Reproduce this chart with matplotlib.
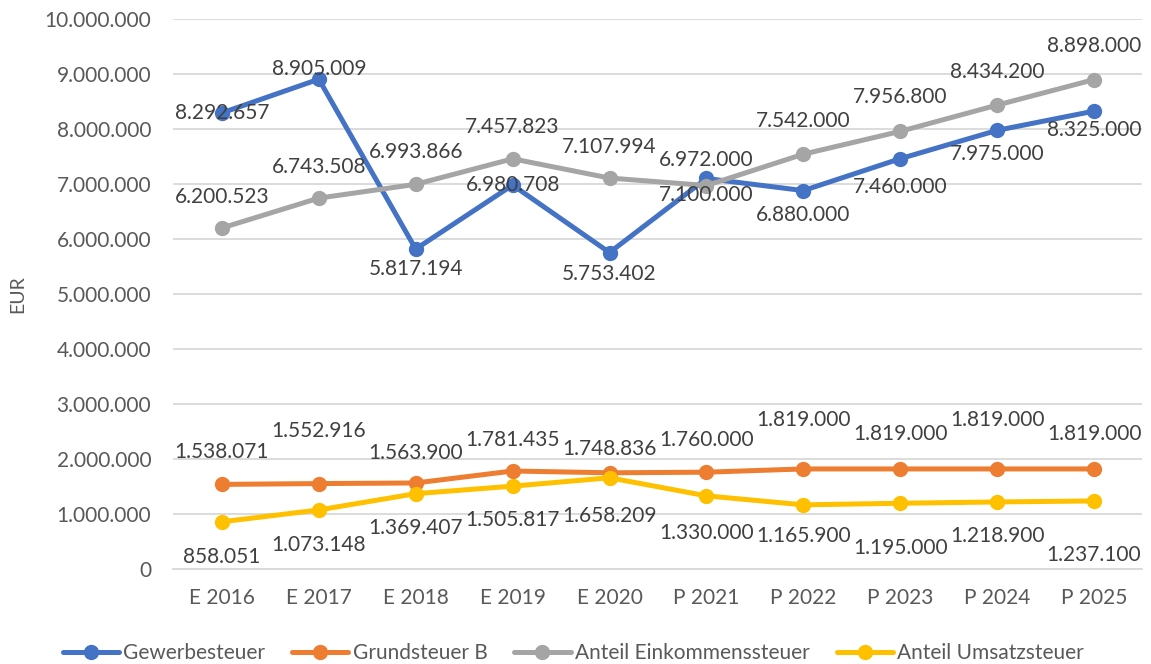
import matplotlib
matplotlib.use("Agg")
import matplotlib.pyplot as plt
from matplotlib.ticker import FuncFormatter

plt.rcParams['font.family'] = ['Lato', 'DejaVu Sans']

jahre = ["E 2016", "E 2017", "E 2018", "E 2019", "E 2020",
         "P 2021", "P 2022", "P 2023", "P 2024", "P 2025"]
gewerbesteuer = [8292657, 8905009, 5817194, 6980708, 5753402,
                 7100000, 6880000, 7460000, 7975000, 8325000]
grundsteuer_b = [1538071, 1552916, 1563900, 1781435, 1748836,
                 1760000, 1819000, 1819000, 1819000, 1819000]
einkommenssteuer = [6200523, 6743508, 6993866, 7457823, 7107994,
                    6972000, 7542000, 7956800, 8434200, 8898000]
umsatzsteuer = [858051, 1073148, 1369407, 1505817, 1658209,
                1330000, 1165900, 1195000, 1218900, 1237100]

namen = ["Gewerbesteuer", "Grundsteuer B", "Anteil Einkommenssteuer", "Anteil Umsatzsteuer"]
farben = ["#4472C4", "#ED7D31", "#A5A5A5", "#FFC000"]

# vertical label offsets in pixels (positive = up), as placed in the original
offsets = [
    [0, 10, -20, 0, -21, -17, -24, -28, -24, -19],
    [32, 53, 30, 31, 24, 32, 49, 35, 49, 35],
    [31, 31, 32, 32, 31, 26, 33, 34, 33, 34],
    [-35, -35, -34, -34, -38, -37, -31, -45, -34, -54],
]

def de(v):
    return f"{int(v):,}".replace(",", ".")

fig = plt.figure(figsize=(11.51, 6.64), dpi=100)
ax = fig.add_axes([0.1507, 0.1431, 0.9926 - 0.1507, 0.9714 - 0.1431])

x = list(range(len(jahre)))
reihen = [gewerbesteuer, grundsteuer_b, einkommenssteuer, umsatzsteuer]
for werte, name, farbe, offs in zip(reihen, namen, farben, offsets):
    ax.plot(x, werte, color=farbe, lw=3.6, marker="o", ms=10, label=name,
            solid_capstyle="round", zorder=3)
    for xi, v, o in zip(x, werte, offs):
        ax.annotate(de(v), (xi, v), xytext=(0, o * 0.72), textcoords="offset points",
                    ha="center", va="center", fontsize=15, color="#404040", zorder=4)

ax.set_xlim(-0.5, len(jahre) - 0.5)
ax.set_ylim(0, 10000000)
ax.set_yticks(range(0, 10000001, 1000000))
ax.yaxis.set_major_formatter(FuncFormatter(lambda v, p: de(v)))
ax.set_xticks(x)
ax.set_xticklabels(jahre)
ax.tick_params(axis="both", length=0, labelsize=15, labelcolor="#595959")
ax.tick_params(axis="x", pad=14)
ax.tick_params(axis="y", pad=16)
ax.grid(axis="y", color="#D9D9D9", lw=1.3, zorder=0)
for s in ax.spines.values():
    s.set_visible(False)
ax.spines["bottom"].set_visible(True)
ax.spines["bottom"].set_color("#D9D9D9")
ax.spines["bottom"].set_linewidth(1.3)
ax.set_ylabel("EUR", fontsize=14, color="#595959")
ax.yaxis.set_label_coords(-0.152, 0.5)

fig.legend(loc="center", bbox_to_anchor=(0.498, 0.0166), ncol=4, frameon=False,
           fontsize=15, labelcolor="#595959", handlelength=2.7, columnspacing=1.3,
           handletextpad=0.2)

fig.savefig("out.png", dpi=100)
